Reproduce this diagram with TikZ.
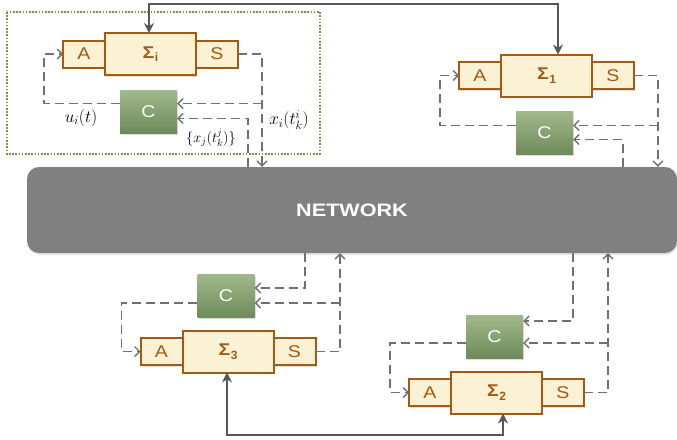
\documentclass[tikz,border=0pt]{standalone}
\usepackage{amsmath,amssymb}
\usepackage{fontspec}
\setmainfont{Liberation Sans}
\usetikzlibrary{arrows.meta,positioning,calc,shadows}

\definecolor{boxfill}{HTML}{FBF1D5}
\definecolor{boxline}{HTML}{A45A12}
\definecolor{ctop}{HTML}{A0B98A}
\definecolor{cbot}{HTML}{6E8A5A}
\definecolor{dashgray}{HTML}{707070}
\definecolor{thkgray}{HTML}{575757}
\definecolor{netgray}{HTML}{808080}
\definecolor{grpgreen}{HTML}{76934A}

\newcommand{\sig}[1]{\scalebox{1.15}[1]{\textbf{Σ}}\kern0.5pt\raisebox{-3.5pt}{\fontsize{12}{12}\selectfont\textbf{#1}}}
\newcommand{\wide}[1]{\scalebox{1.15}[1]{#1}}

\begin{document}
\begin{tikzpicture}[x=1pt, y=-1pt, >=Stealth,
  sb/.style={draw=boxline, line width=2pt, fill=boxfill, text=boxline, outer sep=0pt, inner sep=0pt,
    font=\fontsize{17}{17}\selectfont, drop shadow={shadow xshift=1pt, shadow yshift=-1.5pt, opacity=.25}},
  ab/.style={sb, minimum width=42pt, minimum height=27pt},
  sg/.style={sb, minimum width=91pt, minimum height=42pt},
  cb/.style={top color=ctop, bottom color=cbot, text=white, minimum width=57pt, minimum height=43pt,
    inner sep=0pt, font=\fontsize{17}{17}\selectfont, drop shadow={shadow xshift=1pt, shadow yshift=-1.5pt, opacity=.25}},
  net/.style={fill=netgray, rounded corners=12pt, minimum width=650pt, minimum height=86pt, text=white,
    font=\bfseries\fontsize{18}{18}\selectfont, drop shadow={shadow xshift=1pt, shadow yshift=-2pt, opacity=.2}},
  dl/.style={draw=dashgray, line width=1.3pt, dash pattern=on 9pt off 5pt, -{Straight Barb[length=5pt,width=10pt]}},
  tl/.style={draw=thkgray, line width=2.5pt, {Stealth[length=10pt,width=10pt]}-{Stealth[length=10pt,width=10pt]}},
  grp/.style={draw=grpgreen, line width=1.6pt, dash pattern=on 1.6pt off 1.6pt}]
\useasboundingbox (0,0) rectangle (677,439);

% group of agent i
\draw[grp] (7,12) rectangle (320,154);

% network
\node[net] (net) at (352,210) {\scalebox{1.2}[1]{NETWORK}};

% agents: actuator, plant, sensor, controller
\foreach \n/\p/\g in {i/{(84,54)}/57.5, 1/{(480,75.5)}/57.5, 3/{(161.5,351.5)}/-55.5, 2/{(430,392.5)}/-55.5} {
  \node[ab] (A\n) at \p {\wide{A}};
  \node[sg, right=0pt of A\n] (Sig\n) {\sig{\n}};
  \node[ab, right=0pt of Sig\n] (S\n) {\wide{S}};
  \node[cb] (C\n) at ($(Sig\n)+(-2,\g)$) {\wide{C}};
}

% loop of agent i
\coordinate (ri) at (262,0);
\coordinate (ni) at (248,0);
\coordinate (ci1) at ([yshift=8pt]Ci.east);
\coordinate (ci2) at ([yshift=-7pt]Ci.east);
\draw[dl] (Si.east) -| (net.north -| ri);
\draw[dl] (ri |- ci1) -- (ci1);
\draw[dl] (net.north -| ni) |- (ci2);
\draw[dl] ([yshift=8pt]Ci.west) -| ([xshift=-19pt]Ai.west) -- (Ai.west);

% loop of agent 1
\coordinate (r1) at (658,0);
\coordinate (n1) at (623,0);
\coordinate (c11) at ([yshift=7.5pt]C1.east);
\coordinate (c12) at ([yshift=-6.5pt]C1.east);
\draw[dl] (S1.east) -| (net.north -| r1);
\draw[dl] (r1 |- c11) -- (c11);
\draw[dl] (net.north -| n1) |- (c12);
\draw[dl] ([yshift=7.5pt]C1.west) -| ([xshift=-19pt]A1.west) -- (A1.west);

% loop of agent 3
\coordinate (r3) at (340,0);
\coordinate (n3) at (305,0);
\coordinate (c31) at ([yshift=-7pt]C3.east);
\coordinate (c32) at ([yshift=8pt]C3.east);
\draw[dl] (S3.east) -| (net.south -| r3);
\draw[dl] (r3 |- c31) -- (c31);
\draw[dl] (net.south -| n3) |- (c32);
\draw[dl] ([yshift=-7pt]C3.west) -| ([xshift=-19pt]A3.west) -- (A3.west);

% loop of agent 2
\coordinate (r2) at (608,0);
\coordinate (n2) at (573,0);
\coordinate (c21) at ([yshift=-6pt]C2.east);
\coordinate (c22) at ([yshift=16pt]C2.east);
\draw[dl] (S2.east) -| (net.south -| r2);
\draw[dl] (r2 |- c21) -- (c21);
\draw[dl] (net.south -| n2) |- (c22);
\draw[dl] ([yshift=-6pt]C2.west) -| ([xshift=-19pt]A2.west) -- (A2.west);

% physical coupling
\coordinate (ta) at (149,4);
\coordinate (tb) at (558,4);
\coordinate (ba) at (227,435);
\coordinate (bb) at (503,435);
\draw[tl] (Sigi.north -| ta) -- (ta) -- (tb) -- (Sig1.north -| tb);
\draw[tl] (Sig3.south -| ba) -- (ba) -- (bb) -- (Sig2.south -| bb);

% signal labels
\node[font=\LARGE, inner sep=1pt] (lu) at (81,118) {$u_i(t)$};
\node[font=\LARGE, inner sep=1pt] (lx) at (289,120) {$x_i(t_k^i)$};
\node[font=\Large, inner sep=1pt] (lxj) at (211,138) {$\{x_j(t_k^j)\}$};
\end{tikzpicture}
\end{document}
